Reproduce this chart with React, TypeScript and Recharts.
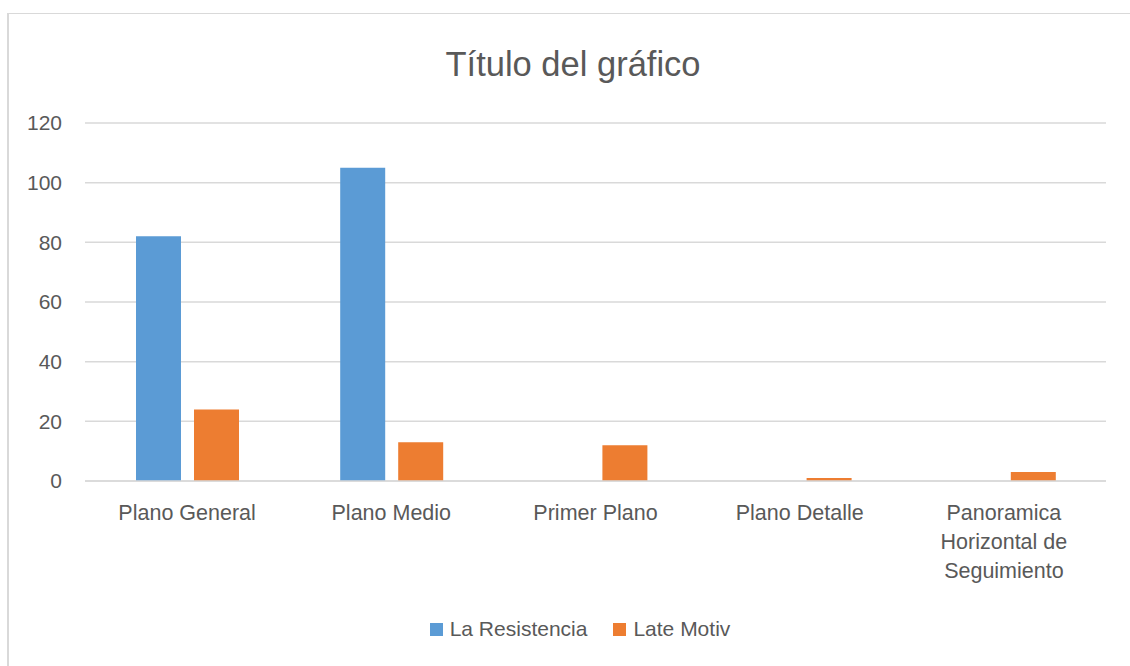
import React from 'react';
import { BarChart, Bar, XAxis, YAxis, CartesianGrid, Legend } from 'recharts';

const categories = ['Plano General', 'Plano Medio', 'Primer Plano', 'Plano Detalle', 'Panoramica Horizontal de Seguimiento'];
const categoryLines = [['Plano General'], ['Plano Medio'], ['Primer Plano'], ['Plano Detalle'], ['Panoramica', 'Horizontal de', 'Seguimiento']];
const laResistencia = [82, 105, 0, 0, 0];
const lateMotiv = [24, 13, 12, 1, 3];
const yTicks = [0, 20, 40, 60, 80, 100, 120];

const data = categories.map((c, i) => ({
  name: c,
  idx: i,
  'La Resistencia': laResistencia[i],
  'Late Motiv': lateMotiv[i],
}));

const FONT = '"Liberation Sans", Arial, sans-serif';
const TXT = '#595959';

const XTick = (props: any) => {
  const { x, y, payload } = props;
  const i = categories.indexOf(payload.value);
  const lines = i >= 0 ? categoryLines[i] : [payload.value];
  return (
    <text x={x} y={y} textAnchor="middle" fill={TXT} fontSize={21.5} fontFamily={FONT}>
      {lines.map((l, k) => (
        <tspan key={k} x={x} dy={k === 0 ? 39 : 29}>{l}</tspan>
      ))}
    </text>
  );
};

const renderLegend = (props: any) => {
  const { payload } = props;
  return (
    <div style={{ display: 'flex', justifyContent: 'center', paddingLeft: 22, fontFamily: FONT, fontSize: 21, color: TXT }}>
      {payload.map((p: any, k: number) => (
        <div key={k} style={{ display: 'flex', alignItems: 'center', marginRight: k === 0 ? 26 : 0 }}>
          <span style={{ display: 'inline-block', width: 13, height: 13, background: p.color, marginRight: 7 }} />
          <span>{p.value}</span>
        </div>
      ))}
    </div>
  );
};

export default function App() {
  return (
    <div style={{ position: 'absolute', left: 7, top: 13, width: 1123, height: 653, borderTop: '1px solid #d9d9d9', borderLeft: '2px solid #d9d9d9', boxSizing: 'border-box', background: '#fff' }}>
      <div style={{ position: 'absolute', left: 0, top: 0, width: 1120, height: 650 }}>
        <div style={{ position: 'absolute', left: 4, top: 30, width: 1120, textAlign: 'center', fontFamily: FONT, fontSize: 34.5, lineHeight: '40px', color: TXT, zIndex: 2 }}>
          Título del gráfico
        </div>
        <BarChart width={1120} height={650} data={data} margin={{ top: 109, right: 23, left: 0, bottom: 83 }} barSize={45} barGap={13}>
          <CartesianGrid vertical={false} stroke="#d9d9d9" strokeWidth={1.5} />
          <XAxis dataKey="name" height={100} interval={0} tickLine={false} tickSize={0} tickMargin={0} axisLine={{ stroke: '#d9d9d9', strokeWidth: 1.5 }} tick={<XTick />} />
          <YAxis width={76} domain={[0, 120]} ticks={yTicks} interval={0} axisLine={false} tickLine={false} tickSize={0} tickMargin={23} tick={{ fill: TXT, fontSize: 21, fontFamily: FONT }} />
          <Legend layout="horizontal" verticalAlign="middle" align="center" wrapperStyle={{ top: 603, left: 0, width: 1120 }} content={renderLegend} />
          <Bar dataKey="La Resistencia" fill="#5B9BD5" isAnimationActive={false} />
          <Bar dataKey="Late Motiv" fill="#ED7D31" isAnimationActive={false} />
        </BarChart>
      </div>
    </div>
  );
}
